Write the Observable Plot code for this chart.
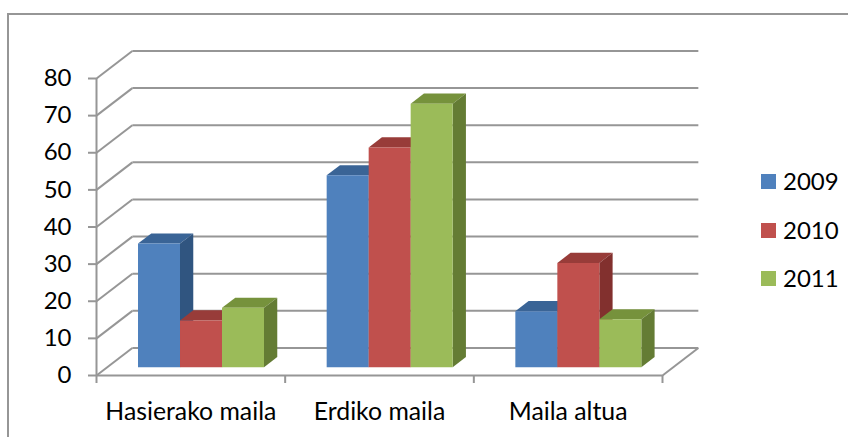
<!DOCTYPE html>
<html><head><meta charset="utf-8">
<script src="https://cdn.jsdelivr.net/npm/d3@7"></script>
<script src="https://cdn.jsdelivr.net/npm/@observablehq/plot@0.6"></script>
<style>
html,body{margin:0;background:#fff;}
#wrap{position:relative;width:848px;height:437px;overflow:hidden;font-family:Lato,sans-serif;color:#000;}
#border{position:absolute;left:7px;top:13px;width:900px;height:500px;border:2px solid #969696;box-sizing:content-box;}
#legend{position:absolute;left:761px;top:0;}
.item{position:absolute;left:0;white-space:nowrap;font-size:24px;line-height:28px;height:28px;}
.sw{position:absolute;left:0;top:7px;width:15px;height:15px;}
.lab{position:absolute;left:22px;top:0;}
svg{position:absolute;left:0;top:0;}
</style></head><body>
<div id="wrap"><div id="border"></div></div>
<script>
const categories = ["Hasierako maila", "Erdiko maila", "Maila altua"];
const years = ["2009", "2010", "2011"];
const values2009 = [33.3, 51.7, 15.1];
const values2010 = [12.6, 59.2, 28.1];
const values2011 = [16, 71, 12.9];
const yTicks = [0, 10, 20, 30, 40, 50, 60, 70, 80];
const frontColors = ["#4F81BD", "#C0504D", "#9BBB59"];
const topColors = ["#3A6496", "#983C39", "#76923C"];
const sideColors = ["#305580", "#82302E", "#647C34"];

// oblique projection, in data units: full wall depth
const depthX = 0.19, depthY = 7.41;
const barWidth = 0.2226, barStart = 0.163;
const nearDepth = 0.3, farDepth = 0.67;
const series = [values2009, values2010, values2011];
const project = (x, y, d) => ({x: x + d * depthX, y: y + d * depthY});

const polys = [];
categories.forEach((c, ci) => {
  series.forEach((vals, si) => {
    const x0 = ci + barStart + si * barWidth, x1 = x0 + barWidth, v = vals[ci];
    const face = (name, fill, pts) => pts.forEach(([x, y, d]) => polys.push({...project(x, y, d), id: `${ci}-${si}-${name}`, fill}));
    face("top", topColors[si], [[x0, v, nearDepth], [x1, v, nearDepth], [x1, v, farDepth], [x0, v, farDepth]]);
    face("side", sideColors[si], [[x1, 0, nearDepth], [x1, 0, farDepth], [x1, v, farDepth], [x1, v, nearDepth]]);
    face("front", frontColors[si], [[x0, 0, nearDepth], [x1, 0, nearDepth], [x1, v, nearDepth], [x0, v, nearDepth]]);
  });
});

const gridColor = "#969696", lw = 2;
const chart = Plot.plot({
  width: 848, height: 437,
  marginLeft: 96, marginRight: 186, marginTop: 78, marginBottom: 62,
  style: {fontFamily: "Lato, sans-serif", fontSize: "24px", color: "#000", background: "transparent", overflow: "visible"},
  x: {domain: [0, 3], axis: null},
  y: {domain: [0, 80], axis: null},
  color: {type: "identity"},
  marks: [
    // back wall gridlines
    Plot.link(yTicks, {x1: depthX, x2: 3 + depthX, y1: d => d + depthY, y2: d => d + depthY, stroke: gridColor, strokeWidth: lw}),
    // side wall diagonals
    Plot.link(yTicks, {x1: 0, x2: depthX, y1: d => d, y2: d => d + depthY, stroke: gridColor, strokeWidth: lw}),
    // floor right edge and front edge
    Plot.link([3], {x1: d => d, x2: d => d + depthX, y1: 0, y2: depthY, stroke: gridColor, strokeWidth: lw}),
    Plot.ruleY([0], {stroke: gridColor, strokeWidth: lw}),
    Plot.ruleX([0], {stroke: gridColor, strokeWidth: lw}),
    Plot.axisY({ticks: yTicks, tickSize: 8, tickPadding: 17, stroke: gridColor, strokeWidth: lw, fill: "#000", label: null, textStroke: "none"}),
    Plot.axisX({ticks: [0, 1, 2, 3], tickSize: 8, tickFormat: () => "", stroke: gridColor, strokeWidth: lw, label: null}),
    Plot.axisX({ticks: [0.5, 1.5, 2.5], tickSize: 0, tickPadding: 27, fontSize: 24.8, tickFormat: d => categories[Math.floor(d)], fill: "#000", label: null}),
    Plot.line(polys, {x: "x", y: "y", z: "id", fill: "fill", stroke: null, curve: "linear-closed"})
  ]
});
document.getElementById("wrap").appendChild(chart);

const legend = document.createElement("div");
legend.id = "legend";
years.forEach((y, i) => {
  const it = document.createElement("div");
  it.className = "item";
  it.style.top = (167 + i * 48.5) + "px";
  it.innerHTML = `<span class="sw" style="background:${frontColors[i]}"></span><span class="lab">${y}</span>`;
  legend.appendChild(it);
});
document.getElementById("wrap").appendChild(legend);
</script>
</body></html>
